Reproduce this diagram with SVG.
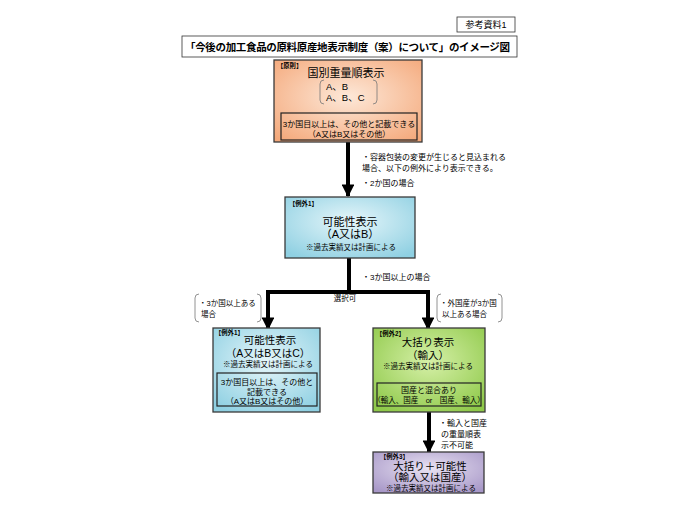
<svg xmlns="http://www.w3.org/2000/svg" width="696" height="519" viewBox="0 0 696 519">
<defs>
<radialGradient id="gOrange" cx="50%" cy="45%" r="70%"><stop offset="0" stop-color="#fde8d8"/><stop offset="1" stop-color="#f4a87a"/></radialGradient>
<radialGradient id="gBlue" cx="50%" cy="40%" r="70%"><stop offset="0" stop-color="#e6f6fa"/><stop offset="1" stop-color="#8fd0e2"/></radialGradient>
<radialGradient id="gGreen" cx="50%" cy="40%" r="70%"><stop offset="0" stop-color="#d6f0a8"/><stop offset="1" stop-color="#8fc94a"/></radialGradient>
<radialGradient id="gPurple" cx="50%" cy="40%" r="70%"><stop offset="0" stop-color="#e8e2f2"/><stop offset="1" stop-color="#a898c8"/></radialGradient>
<marker id="ah" viewBox="0 0 10 10" refX="9" refY="5" markerWidth="4.2" markerHeight="3.2" markerUnits="strokeWidth" orient="auto"><path d="M0,0 L10,5 L0,10 z" fill="#000"/></marker>
</defs>
<style>
text{font-family:"Liberation Sans","Noto Sans CJK JP",sans-serif;fill:#000}
.t{font-size:8px}
.tag{font-size:6.3px;font-weight:bold}
.h{font-size:11px}
.h2{font-size:10.5px}
.m{font-size:9.5px}
.s{font-size:7.5px}
.box{stroke:#3a3a3a;stroke-width:1.3}
.inner{fill:none;stroke:#222;stroke-width:1.2}
.conn{fill:none;stroke:#000;stroke-width:4}
.br{fill:none;stroke:#777;stroke-width:0.8}
.c{text-anchor:middle}
</style>
<rect width="696" height="519" fill="#fff"/>

<g id="ref-label">
<rect x="457" y="17" width="58" height="15" fill="#fff" stroke="#333" stroke-width="0.8"/>
<text x="486" y="28" font-size="9" class="c">参考資料1</text>
</g>

<g id="title">
<rect x="182" y="36" width="335" height="21" fill="#fff" stroke="#333" stroke-width="0.8"/>
<text x="185" y="51" font-size="10.5" font-weight="bold" textLength="325" lengthAdjust="spacing">「今後の加工食品の原料原産地表示制度（案）について」のイメージ図</text>
</g>

<g id="connectors">
<line x1="348" y1="142" x2="348" y2="196" class="conn" marker-end="url(#ah)"/>
<polyline points="349,258 349,292 268,292 268,329" class="conn" marker-end="url(#ah)"/>
<polyline points="349,292 428,292 428,329" class="conn" marker-end="url(#ah)"/>
<line x1="429" y1="412" x2="429" y2="452" class="conn" marker-end="url(#ah)"/>
<text x="362" y="160" class="t">・容器包装の変更が生じると見込まれる</text>
<text x="362" y="171" class="t">場合、以下の例外により表示できる。</text>
<text x="362" y="186" class="t">・2か国の場合</text>
<text x="362" y="280" class="t">・3か国以上の場合</text>
<text x="345" y="301" class="s c">選択可</text>
<path d="M199,294 q-4,0 -4,4 v20 q0,4 4,4" class="br"/>
<path d="M257,294 q4,0 4,4 v20 q0,4 -4,4" class="br"/>
<text x="199" y="306" class="s">・3か国以上ある</text>
<text x="201" y="317" class="s">場合</text>
<path d="M441,294 q-4,0 -4,4 v20 q0,4 4,4" class="br"/>
<path d="M498,294 q4,0 4,4 v20 q0,4 -4,4" class="br"/>
<text x="440" y="306" class="s">・外国産が3か国</text>
<text x="442" y="317" class="s">以上ある場合</text>
<text x="439" y="426" class="t">・輸入と国産</text>
<text x="441" y="437" class="t">の重量順表</text>
<text x="441" y="448" class="t">示不可能</text>
</g>

<g id="principle">
<rect x="274" y="60" width="148" height="82" fill="url(#gOrange)" class="box"/>
<text x="277" y="68" class="tag">【原則】</text>
<text x="346" y="77" class="h c">国別重量順表示</text>
<path d="M324,80 q-4,0 -4,4 v16 q0,4 4,4" class="br" stroke="#333"/>
<path d="M373,80 q4,0 4,4 v16 q0,4 -4,4" class="br" stroke="#333"/>
<text x="326" y="90" class="m">A、B</text>
<text x="326" y="101" class="m">A、B、C</text>
<rect x="281" y="113" width="136" height="27" class="inner"/>
<text x="349" y="127" class="t c">3か国目以上は、その他と記載できる</text>
<text x="349" y="137" class="t c">（A又はB又はその他）</text>
</g>

<g id="exception1">
<rect x="285" y="197" width="130" height="61" fill="url(#gBlue)" class="box"/>
<text x="289" y="206" class="tag">【例外1】</text>
<text x="350" y="226" class="h c">可能性表示</text>
<text x="350" y="238" class="h c">（A又はB）</text>
<text x="351" y="250" class="s c">※過去実績又は計画による</text>
</g>

<g id="exception1b">
<rect x="213" y="328" width="107" height="84" fill="url(#gBlue)" class="box"/>
<text x="215" y="335" class="tag">【例外1】</text>
<text x="270" y="344" class="h2 c">可能性表示</text>
<text x="268" y="357" class="h2 c">（A又はB又はC）</text>
<text x="268" y="367" class="s c">※過去実績又は計画による</text>
<rect x="217" y="373" width="100" height="33" class="inner"/>
<text x="267" y="385" class="t c">3か国目以上は、その他と</text>
<text x="267" y="395" class="t c">記載できる</text>
<text x="267" y="404" class="t c">（A又はB又はその他）</text>
</g>

<g id="exception2">
<rect x="373" y="328" width="112" height="84" fill="url(#gGreen)" class="box"/>
<text x="376" y="336" class="tag">【例外2】</text>
<text x="428" y="346" class="h2 c">大括り表示</text>
<text x="428" y="359" class="h2 c">（輸入）</text>
<text x="428" y="369" class="s c">※過去実績又は計画による</text>
<rect x="377" y="383" width="104" height="23" class="inner"/>
<text x="429" y="393" class="t c">国産と混合あり</text>
<text x="429" y="403" class="s c">（輸入、国産　or　国産、輸入）</text>
</g>

<g id="exception3">
<rect x="373" y="452" width="111" height="41" fill="url(#gPurple)" class="box"/>
<text x="380" y="459" class="tag">【例外3】</text>
<text x="430" y="470" class="h2 c">大括り＋可能性</text>
<text x="430" y="481" class="h2 c">（輸入又は国産）</text>
<text x="431" y="491" class="s c">※過去実績又は計画による</text>
</g>
</svg>
